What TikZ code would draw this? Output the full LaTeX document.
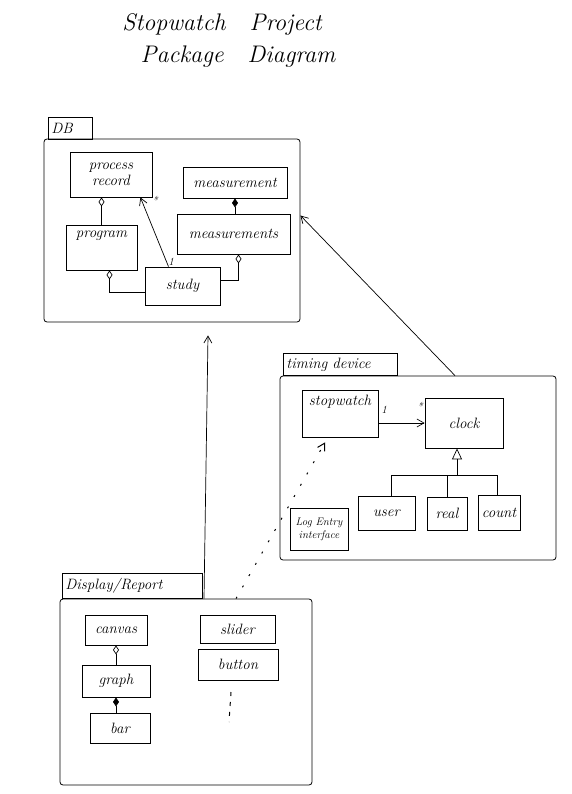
\documentclass[tikz,border=0pt]{standalone}
\usetikzlibrary{arrows.meta,calc}
\begin{document}
\begin{tikzpicture}[x=1pt,y=-1pt,
  box/.style={draw,line width=0.8pt,inner sep=1pt,font=\itshape\fontsize{15}{16}\selectfont,align=center},
  pkg/.style={draw,line width=0.8pt,rounded corners=3pt},
  tab/.style={draw,line width=0.8pt,font=\itshape\fontsize{15}{16}\selectfont,inner sep=2pt},
  lbl/.style={font=\itshape\fontsize{15}{16}\selectfont,inner sep=0pt},
  mult/.style={font=\itshape\fontsize{11}{12}\selectfont,inner sep=0pt},
  ln/.style={line width=0.7pt},
  opn/.style={ln,-{Straight Barb[length=7pt,width=8pt]}},
  agg/.style={ln,-{Diamond[open,length=9pt,width=6pt]}},
  cmp/.style={ln,-{Diamond[length=9pt,width=6pt]}},
  gen/.style={ln,-{Triangle[open,length=11pt,width=10pt]}},
  dep/.style={line width=1pt,dash pattern=on 2pt off 11pt,-{Straight Barb[length=7pt,width=8pt]}}
]
\useasboundingbox (0,0) rectangle (572,794);
% title
\node[font=\itshape\fontsize{24}{26}\selectfont] (t1) at (222,25) {Stopwatch\quad Project};
\node[font=\itshape\fontsize{24}{26}\selectfont] (t2) at (238,57) {Package\quad Diagram};

% ---------- DB package ----------
\node[tab,minimum width=44pt,minimum height=22pt,anchor=north west,text width=38pt] (dbtab) at (48,117) {DB};
\node[pkg,minimum width=256pt,minimum height=183pt] (db) at (172,230.5) {};
\node[box,minimum width=82pt,minimum height=45pt] (pr) at (111,174.5) {process\\record};
\node[box,minimum width=104pt,minimum height=31pt] (m) at (235,182.5) {measurement};
\node[box,minimum width=113pt,minimum height=40pt] (ms) at (233.5,234) {measurements};
\node[box,minimum width=71pt,minimum height=45pt] (prog) at (101.5,247.5) {};
\node[lbl,anchor=north] (progt) at ([yshift=-6pt]prog.north) {program};
\node[box,minimum width=75pt,minimum height=38pt] (study) at (182.5,286) {study};

\draw[agg] (prog.north) -- (prog.north |- pr.south);
\draw[opn] ([xshift=-14pt]study.north) -- ([xshift=-12pt]pr.south east);
\node[mult] (s1) at (155,200) {*};
\node[mult] (o1) at (171,262) {1};
\draw[agg] ([yshift=-6pt]study.west) -| ([xshift=8pt]prog.south);
\draw[agg] ([yshift=6pt]study.east) -| ([xshift=5pt]ms.south);
\draw[cmp] (ms.north -| m.south) -- (m.south);

% ---------- timing device ----------
\node[tab,minimum width=114pt,minimum height=22pt,anchor=north west,text width=108pt] (tdtab) at (283,353) {timing device};
\node[pkg,minimum width=276pt,minimum height=184pt] (td) at (418,468) {};
\node[box,minimum width=76pt,minimum height=47pt] (sw) at (340,413.5) {};
\node[lbl,anchor=north] (swt) at ([yshift=-5pt]sw.north) {stopwatch};
\node[box,minimum width=78pt,minimum height=50pt] (clk) at (464,423) {clock};
\node[box,minimum width=58pt,minimum height=42pt,font=\itshape\fontsize{11}{13}\selectfont] (le) at (319,529) {Log Entry\\interface};
\node[box,minimum width=57pt,minimum height=34pt] (user) at (386.5,513) {user};
\node[box,minimum width=40pt,minimum height=33pt] (real) at (447,513.5) {real};
\node[box,minimum width=42pt,minimum height=35pt] (count) at (499,512.5) {count};

\draw[opn] (sw.east |- clk.west) -- (clk.west);
\node[mult] (o2) at (384,410) {1};
\node[mult] (s2) at (420,406) {*};
\coordinate (gj) at (457,475);
\draw[gen] (gj) -- (gj |- clk.south);
\draw[ln] ([xshift=5pt]user.north) |- ([xshift=-2pt]count.north |- gj) -- ([xshift=-2pt]count.north);
\draw[ln] (real.north) -- (real.north |- gj);

% ---------- Display/Report ----------
\node[tab,minimum width=140pt,minimum height=25pt,anchor=north west,text width=134pt] (drtab) at (62,573) {Display/Report};
\node[pkg,minimum width=252pt,minimum height=186pt] (dr) at (186,692) {};
\node[box,minimum width=62pt,minimum height=30pt] (canvas) at (116,630) {canvas};
\node[box,minimum width=68pt,minimum height=32pt] (graph) at (116,681) {graph};
\node[box,minimum width=60pt,minimum height=30pt] (bar) at (120,728) {bar};
\node[box,minimum width=75pt,minimum height=28pt] (slider) at (237.5,629) {slider};
\node[box,minimum width=80pt,minimum height=31pt] (button) at (238,664.5) {button};
\coordinate (e1) at (231,692);
\coordinate (e2) at (229,722);
\draw[line width=1pt,dash pattern=on 4pt off 6pt] (e1) -- (e2);

\draw[agg] (graph.north) -- (graph.north |- canvas.south);
\draw[cmp] (bar.north -| graph.south) -- (graph.south);

% ---------- package dependencies ----------
\draw[opn] ([xshift=18pt]dr.north) -- ([xshift=36pt,yshift=-13pt]db.south);
\draw[opn] ([xshift=37pt]td.north) -- ([yshift=15pt]db.east);
\draw[dep] ([xshift=50pt]dr.north) -- ([xshift=-15pt,yshift=-5pt]sw.south);
\end{tikzpicture}
\end{document}
